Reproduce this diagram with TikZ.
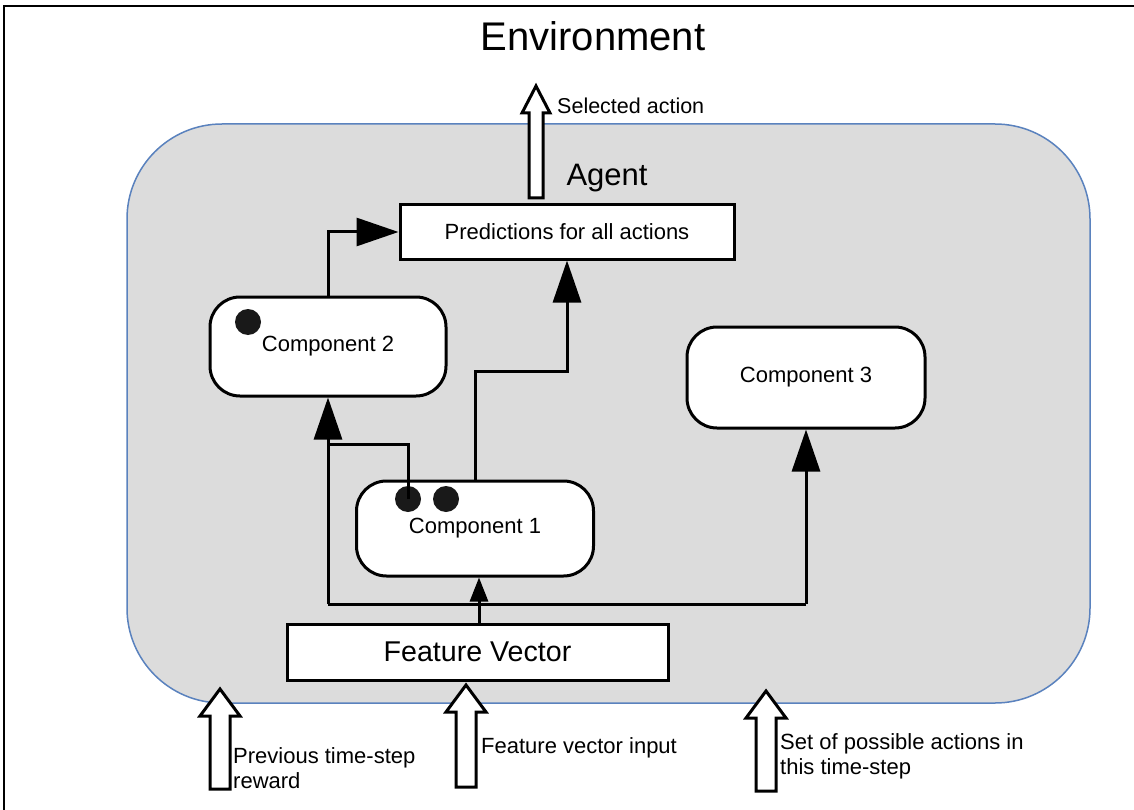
\documentclass[tikz,border=0pt]{standalone}
\usepackage{fontspec}
\setmainfont{Liberation Sans}
\usetikzlibrary{arrows.meta,calc}
\definecolor{agentfill}{HTML}{DCDCDC}
\definecolor{agentborder}{HTML}{5A82BE}
\newcommand{\myharrow}[6]{%
 \draw[hollow] ({#1-#4},#3) -- ({#1-#4},{#2+#6}) -- ({#1-#5},{#2+#6}) -- (#1,#2) -- ({#1+#5},{#2+#6}) -- ({#1+#4},{#2+#6}) -- ({#1+#4},#3) -- cycle;}
\tikzset{
  box/.style={draw=black, line width=3pt, fill=white, inner sep=0pt},
  compbox/.style={box, rounded corners=30pt, font=\fontsize{22}{26}\selectfont},
  dotnode/.style={circle, fill=black!90, inner sep=0pt, minimum size=26pt},
  conn/.style={draw=black, line width=3pt},
  bigtip/.style={conn, -{Triangle[length=42pt,width=28pt]}},
  smalltip/.style={conn, -{Triangle[length=24pt,width=18pt]}},
  hollow/.style={draw=black, line width=3pt, fill=white, line join=miter},
  lbl/.style={inner sep=0pt, font=\fontsize{22}{25}\selectfont, align=left}
}
\begin{document}
\begin{tikzpicture}[x=1pt,y=-1pt]
\useasboundingbox (0,0) rectangle (1134,810);
\fill[white] (0,0) rectangle (1134,810);
% frame
\draw[line width=2pt] (4,810) -- (4,6) -- (1134,6);
\node[inner sep=0pt, font=\fontsize{40}{44}\selectfont] (env) at (593,36) {Environment};
% agent
\node[draw=agentborder, line width=1.5pt, fill=agentfill, rounded corners=95pt,
      minimum width=963pt, minimum height=579pt, inner sep=0pt] (agent) at (608.5,413.5) {};
\node[inner sep=0pt, font=\fontsize{31}{35}\selectfont] (agentlbl) at (607,178) {Agent};
% boxes
\node[box, minimum width=334pt, minimum height=54pt, font=\fontsize{22}{26}\selectfont] (pred) at (567,232) {Predictions for all actions};
\node[compbox, minimum width=236pt, minimum height=99pt] (c2) at (328,346.5) {\raisebox{-2pt}{Component 2}};
\node[compbox, minimum width=237pt, minimum height=95pt] (c1) at (475,528.5) {Component 1};
\node[compbox, minimum width=238pt, minimum height=101pt] (c3) at (806,377.5) {Component 3};
\node[box, minimum width=381pt, minimum height=56pt, font=\fontsize{28.6}{32}\selectfont] (fv) at (477.5,652) {Feature Vector};
% dots
\node[dotnode] (d3) at (248,322) {};
\node[dotnode] (d1) at (408,499) {};
\node[dotnode] (d2) at (446,499) {};
% connectors
\coordinate (bus) at (0,604);
\coordinate (j) at (328,444);
\coordinate (up) at (0,371);
\draw[bigtip] (c2.north) |- (pred.west);
\draw[bigtip] (c1.north) |- (pred.south |- up) -- (pred.south);
\draw[conn] (c2.south |- bus) -- (c3.south |- bus);
\draw[bigtip] (c2.south |- bus) -- (c2.south);
\draw[bigtip] (c3.south |- bus) -- (c3.south);
\draw[smalltip] (fv.north -| 479,0) -- (c1.south -| 479,0);
\draw[conn] (d1.center) |- (j);
% hollow arrows
\myharrow{536}{86}{198}{7}{14}{27}
\myharrow{220}{689}{789}{10}{20}{27}
\myharrow{466}{685}{787}{10}{20}{27}
\myharrow{766}{691}{791}{10}{20}{27}
% labels
\node[lbl, anchor=west, font=\fontsize{21.5}{25}\selectfont] (sel) at (557,106) {Selected action};
\node[lbl, anchor=west] (prev) at (233,768) {Previous time-step\\reward};
\node[lbl, anchor=west] (fvin) at (481,748) {Feature vector input};
\node[lbl, anchor=west] (set) at (780,756) {Set of possible actions in\\this time-step};
\end{tikzpicture}
\end{document}
